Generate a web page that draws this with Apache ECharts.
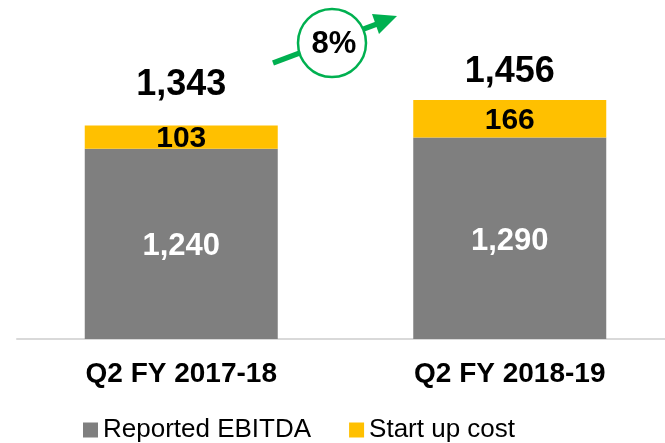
<!DOCTYPE html>
<html lang="en">

<head>
    <meta charset="UTF-8">
    <title>EBITDA</title>
    <style>
        html,
        body {
            margin: 0;
            padding: 0;
            width: 100%;
            height: 100%;
            background: #fff;
        }
    </style>
</head>

<body>
    <div id="main" style="width: 665px;height:443px;"></div>
    <script src="https://cdn.jsdelivr.net/npm/echarts@6/dist/echarts.min.js"></script>
    <script type="text/javascript">
        var categories = ['Q2 FY 2017-18', 'Q2 FY 2018-19'];
        var reportedEbitda = [1240, 1290];
        var startUpCost = [103, 166];
        var totals = [1343, 1456];
        var growthLabel = '8%';

        var font = '"Liberation Sans", Arial, sans-serif';
        var green = '#00b050';
        // label gaps above each bar differ a bit in the original slide
        var totalGap = [22, 10];

        function fmt(v) {
            return v.toLocaleString('en-US');
        }

        var myChart = echarts.init(document.getElementById('main'));
        var option = {
            animation: false,
            grid: {
                left: 17,
                top: 22,
                width: 657,
                bottom: 104,
                containLabel: false,
                outerBoundsMode: 'none'
            },
            legend: {
                data: ['Reported EBITDA', 'Start up cost'],
                left: 78,
                top: 412,
                itemWidth: 15,
                itemHeight: 15,
                itemGap: 38,
                icon: 'rect',
                textStyle: {
                    fontFamily: font,
                    fontSize: 26,
                    color: '#000',
                    padding: 0
                }
            },
            xAxis: {
                type: 'category',
                data: categories,
                axisLine: { lineStyle: { color: '#d9d9d9', width: 2 } },
                axisTick: { show: false },
                axisLabel: {
                    margin: 21,
                    fontFamily: font,
                    fontSize: 28,
                    fontWeight: 'bold',
                    color: '#000'
                }
            },
            yAxis: {
                type: 'value',
                min: 400,
                max: 1800,
                show: false,
                splitLine: { show: false }
            },
            series: [
                {
                    name: 'Reported EBITDA',
                    type: 'bar',
                    stack: 'a',
                    barWidth: 193,
                    data: reportedEbitda,
                    itemStyle: { color: '#7f7f7f' },
                    label: {
                        show: true,
                        position: 'inside',
                        offset: [0, 3],
                        color: '#fff',
                        fontFamily: font,
                        fontSize: 31,
                        fontWeight: 'bold',
                        formatter: function (p) { return fmt(p.value); }
                    }
                },
                {
                    name: 'Start up cost',
                    type: 'bar',
                    stack: 'a',
                    barWidth: 193,
                    data: startUpCost,
                    itemStyle: { color: '#ffc000' },
                    label: {
                        show: true,
                        position: 'inside',
                        offset: [0, 2],
                        color: '#000',
                        fontFamily: font,
                        fontSize: 30,
                        fontWeight: 'bold',
                        formatter: function (p) { return fmt(p.value); }
                    }
                },
                {
                    name: 'Total',
                    type: 'bar',
                    barWidth: 193,
                    barGap: '-100%',
                    z: 1,
                    data: totals.map(function (v, i) {
                        return { value: v, label: { distance: totalGap[i] } };
                    }),
                    itemStyle: { color: 'rgba(0,0,0,0)' },
                    label: {
                        show: true,
                        position: 'top',
                        color: '#000',
                        fontFamily: font,
                        fontSize: 36,
                        fontWeight: 'bold',
                        formatter: function (p) { return fmt(p.value); }
                    }
                }
            ],
            graphic: [
                {
                    type: 'line',
                    shape: { x1: 273, y1: 63, x2: 377, y2: 24 },
                    style: { stroke: green, lineWidth: 5.5 },
                    z: 10
                },
                {
                    type: 'polygon',
                    shape: { points: [[397, 16], [379, 34], [372, 14]] },
                    style: { fill: green },
                    z: 10
                },
                {
                    type: 'circle',
                    shape: { cx: 332, cy: 43, r: 34 },
                    style: { fill: '#fff', stroke: green, lineWidth: 2.5 },
                    z: 11
                },
                {
                    type: 'text',
                    x: 334,
                    y: 44,
                    z: 12,
                    style: {
                        text: growthLabel,
                        fontFamily: font,
                        fontSize: 31,
                        fontWeight: 'bold',
                        fill: '#000',
                        align: 'center',
                        verticalAlign: 'middle'
                    }
                }
            ]
        };
        myChart.setOption(option);
    </script>
</body>

</html>
